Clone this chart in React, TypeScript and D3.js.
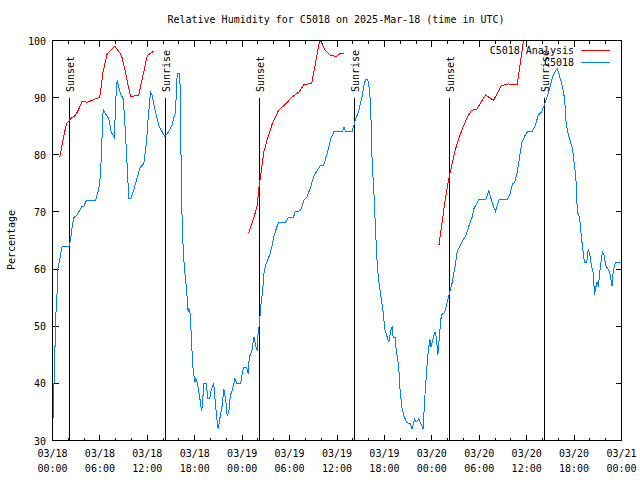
import React from "react";
import * as d3 from "d3";

const TITLE = "Relative Humidity for C5018 on 2025-Mar-18 (time in UTC)";
const Y_LABEL = "Percentage";
const X_MAJOR_HOURS = [0, 6, 12, 18, 24, 30, 36, 42, 48, 54, 60, 66, 72];
const X_TICK_DATES = ["03/18", "03/18", "03/18", "03/18", "03/19", "03/19", "03/19", "03/19", "03/20", "03/20", "03/20", "03/20", "03/21"];
const X_TICK_TIMES = ["00:00", "06:00", "12:00", "18:00", "00:00", "06:00", "12:00", "18:00", "00:00", "06:00", "12:00", "18:00", "00:00"];
const Y_TICKS = [30, 40, 50, 60, 70, 80, 90, 100];
const SUNSET_HOURS = [2.2, 26.23, 50.27];
const SUNRISE_HOURS = [14.3, 38.27, 62.29];

// Analysis series (hours since 03/18 00:00 UTC, %RH), three separate runs
const analysis1: [number, number][] = [
  [0.93, 79.6], [1.35, 82.8], [1.77, 85.4], [2.28, 86.3], [2.9, 86.9], [3.33, 88], [3.75, 89.4],
  [4.38, 89.2], [5.0, 89.5], [5.65, 89.9], [5.98, 90.1], [6.4, 94.5], [6.92, 97.7], [7.9, 99],
  [8.73, 97.4], [9.1, 95.3], [9.87, 90.2], [10.9, 90.4], [12.0, 97.4], [12.8, 98.1],
];
const analysis2: [number, number][] = [
  [24.84, 66.35], [25.5, 69.1], [25.9, 71.1], [26.1, 74], [26.4, 77], [26.74, 80.5], [27.2, 82.8],
  [27.8, 85.4], [28.6, 87.75], [29.5, 88.9], [30.3, 90.1], [31.2, 91], [31.8, 92.25], [32.8, 92.5],
  [33.3, 96.2], [33.8, 100], [34.0, 99.8], [34.5, 98.25], [35.2, 97.4], [35.9, 97.2], [36.4, 97.7], [36.9, 97.8],
];
const analysis3: [number, number][] = [
  [48.9, 64.2], [49.3, 68.2], [49.7, 72.3], [50.15, 75.8], [50.6, 78.7], [51.0, 81], [51.4, 82.8],
  [51.85, 84.5], [52.5, 86.6], [53.0, 87.75], [53.7, 88], [54.8, 90.5], [55.8, 89.5], [56.8, 92.1],
  [57.7, 92.4], [58.8, 92.25], [59.2, 96.2], [59.6, 100], [60.2, 104],
];

// Observed series
const observed: [number, number][] = [
  [0.08, 34], [0.15, 38], [0.3, 45], [0.38, 51], [0.59, 56], [0.68, 60], [0.89, 61.5], [1.22, 64], [2.07, 64],
  [2.28, 65], [2.49, 67.5], [2.7, 69], [3.12, 69.5], [3.33, 70], [3.75, 71], [3.96, 71], [4.3, 72], [5.44, 72],
  [5.65, 73], [5.86, 74], [6.07, 76.5], [6.2, 80.5], [6.41, 88], [6.7, 87.2], [7.13, 86.3], [7.42, 84], [7.85, 83],
  [7.97, 89], [8.18, 93], [8.6, 90.7], [8.94, 89.8], [9.1, 87], [9.36, 80.5], [9.66, 72.3], [9.9, 72.3], [10.3, 74],
  [10.8, 76.4], [11.1, 77.8], [11.55, 78.4], [11.9, 82.2], [12.1, 86.3], [12.4, 91], [12.6, 90.4], [12.95, 88],
  [13.46, 85.1], [13.88, 84], [14.2, 83.2], [14.7, 84], [15.1, 85.1], [15.56, 87.5], [15.78, 94.2], [16.1, 94.2],
  [16.2, 89.2], [16.28, 77], [16.4, 68.8], [16.53, 63.8], [16.7, 60], [16.96, 56.5], [17.17, 52.5], [17.25, 53.2],
  [17.46, 51.9], [17.55, 48.4], [17.75, 43.1], [18.0, 40.2], [18.15, 40.8], [18.3, 40.2], [18.6, 37.9], [18.85, 35.2],
  [18.95, 36], [19.15, 39.9], [19.45, 39.9], [19.66, 37.3], [19.9, 37.3], [20.1, 39], [20.4, 39.9], [20.6, 36.7],
  [20.84, 33.2], [20.97, 32], [21.17, 33.8], [21.47, 36.1], [21.68, 39], [21.9, 37.3], [22.1, 34.4], [22.3, 34.8],
  [22.5, 37.9], [22.8, 39], [23.07, 40.8], [23.37, 39.9], [23.8, 39.9], [24.0, 41.7], [24.2, 42.8], [24.55, 42.8],
  [24.76, 41.7], [24.9, 44.6], [25.2, 45.5], [25.5, 48.1], [25.7, 46.6], [25.9, 45.75], [26.0, 48.4], [26.2, 50.7],
  [26.4, 54.2], [26.6, 56], [26.7, 58.9], [26.95, 60.6], [27.3, 61.8], [27.6, 63], [27.8, 64.1], [28.0, 65.6],
  [28.3, 67], [28.6, 68.2], [29.5, 68.2], [29.9, 69.1], [30.5, 69.1], [30.7, 70], [31.4, 70.25], [31.8, 72],
  [32.2, 72.6], [32.65, 74.3], [33.1, 76.4], [33.5, 77.25], [33.9, 78.1], [34.3, 78.1], [34.8, 80.5], [35.2, 82.8],
  [35.6, 84], [36.65, 84], [36.9, 84.8], [37.1, 84], [37.9, 84], [38.3, 86], [38.76, 87.75], [39.2, 90.4],
  [39.4, 92.1], [39.6, 93.1], [39.9, 93.1], [40.15, 91], [40.3, 86.3], [40.45, 78.7], [40.65, 74], [40.87, 67],
  [41.1, 60.6], [41.3, 57.7], [41.6, 54.8], [41.84, 52.5], [42.05, 49.5], [42.35, 48.1], [42.55, 47.2], [42.77, 49],
  [43.0, 50.1], [43.1, 48.1], [43.35, 48.1], [43.5, 45.75], [43.8, 43.1], [44.0, 38.45], [44.25, 35.5], [44.45, 34.4],
  [44.8, 33.2], [45.3, 32.9], [45.5, 32], [45.8, 33.8], [46.0, 33.2], [46.35, 33.8], [46.6, 33], [46.9, 32],
  [47.07, 36.7], [47.3, 41.4], [47.5, 44.9], [47.74, 47.8], [47.9, 46.3], [48.1, 47.5], [48.4, 49], [48.6, 47.8],
  [48.76, 44.9], [49.0, 49], [49.2, 51.9], [49.65, 52.5], [49.95, 54.2], [50.27, 56], [50.6, 57.7], [50.8, 59.5],
  [51.0, 60.9], [51.2, 63], [51.5, 63.8], [51.8, 64.7], [52.3, 65.9], [52.7, 67.6], [53.1, 69.1], [53.3, 70.5],
  [53.9, 72.1], [54.8, 72.1], [55.2, 73.75], [55.5, 72.3], [55.76, 71.1], [56.05, 70.1], [56.5, 72.1], [57.5, 72.1],
  [57.9, 73.2], [58.2, 74.9], [58.5, 75.2], [58.8, 77], [59.0, 78.7], [59.2, 80.5], [59.4, 82.2], [59.8, 83.4],
  [60.1, 84], [60.7, 84], [61.1, 85.1], [61.45, 86.9], [61.9, 87.5], [62.2, 88.6], [62.5, 89.8], [62.8, 91],
  [63.2, 93.3], [63.65, 94.75], [63.9, 95], [64.2, 93.6], [64.5, 92.1], [64.8, 89.8], [65.0, 85.4], [65.25, 83.7],
  [65.5, 82.5], [65.8, 81], [66.1, 77.55], [66.3, 74.6], [66.4, 70], [66.7, 69.1], [66.9, 65.9], [67.1, 63.5],
  [67.3, 61.2], [67.6, 61.2], [67.8, 63.5], [68.0, 62.4], [68.2, 60.6], [68.4, 59.5], [68.6, 55.4], [68.7, 56.5],
  [68.9, 57.7], [69.1, 57.1], [69.2, 58.9], [69.4, 61.2], [69.6, 63], [69.8, 62.4], [70.0, 60.6], [70.3, 60],
  [70.5, 59.5], [70.8, 57.1], [70.9, 58.9], [71.1, 60.6], [71.3, 61.2], [72, 61.2],
];

const LEFT = 52.5, RIGHT = 621.5, TOP = 40.5, BOTTOM = 440.5;
const FONT = "'DejaVu Sans Mono', 'Liberation Mono', monospace";
const RED = "#ff0000";
const BLUE = "#0080ff";

export default function App() {
  const x = d3.scaleLinear().domain([0, 72]).range([LEFT, RIGHT]);
  const y = d3.scaleLinear().domain([30, 100]).range([BOTTOM, TOP]);
  const line = d3.line<[number, number]>().x((d) => x(d[0])).y((d) => y(d[1]));
  const minor = d3.range(0, 73, 2).filter((h) => h % 6 !== 0);
  const r = (v: number) => Math.round(v - 0.5) + 0.5;

  return (
    <svg width={640} height={480} style={{ position: "absolute", left: 0, top: 0, background: "#fff" }}
      fontFamily={FONT} fontSize={10}>
      <defs>
        <clipPath id="plot">
          <rect x={LEFT} y={TOP} width={RIGHT - LEFT} height={BOTTOM - TOP} />
        </clipPath>
      </defs>
      <rect x={0} y={0} width={640} height={480} fill="#fff" />
      <text x={336} y={23} textAnchor="middle">{TITLE}</text>
      <text transform={`translate(15,240) rotate(-90)`} textAnchor="middle">{Y_LABEL}</text>

      <g stroke="#000" strokeWidth={1} shapeRendering="crispEdges">
        {Y_TICKS.map((v) => (
          <g key={"y" + v}>
            <line x1={LEFT} x2={LEFT + 6} y1={r(y(v))} y2={r(y(v))} />
            <line x1={RIGHT} x2={RIGHT - 6} y1={r(y(v))} y2={r(y(v))} />
          </g>
        ))}
        {X_MAJOR_HOURS.map((h) => (
          <g key={"x" + h}>
            <line x1={r(x(h))} x2={r(x(h))} y1={BOTTOM} y2={BOTTOM - 6} />
            <line x1={r(x(h))} x2={r(x(h))} y1={TOP} y2={TOP + 6} />
          </g>
        ))}
        {minor.map((h) => (
          <g key={"m" + h}>
            <line x1={r(x(h))} x2={r(x(h))} y1={BOTTOM} y2={BOTTOM - 3} />
            <line x1={r(x(h))} x2={r(x(h))} y1={TOP} y2={TOP + 3} />
          </g>
        ))}
        {[...SUNSET_HOURS, ...SUNRISE_HOURS].map((h, i) => (
          <line key={"s" + i} x1={r(x(h))} x2={r(x(h))} y1={y(90)} y2={BOTTOM} />
        ))}
      </g>

      {Y_TICKS.map((v) => (
        <text key={"yl" + v} x={46} y={y(v) + 4} textAnchor="end">{v}</text>
      ))}
      {X_MAJOR_HOURS.map((h, i) => (
        <g key={"xl" + h}>
          <text x={x(h)} y={457} textAnchor="middle">{X_TICK_DATES[i]}</text>
          <text x={x(h)} y={472} textAnchor="middle">{X_TICK_TIMES[i]}</text>
        </g>
      ))}
      {SUNSET_HOURS.map((h, i) => (
        <text key={"ss" + i} transform={`translate(${r(x(h)) + 4.5},92) rotate(-90)`}>Sunset</text>
      ))}
      {SUNRISE_HOURS.map((h, i) => (
        <text key={"sr" + i} transform={`translate(${r(x(h)) + 4.5},92) rotate(-90)`}>Sunrise</text>
      ))}

      <g clipPath="url(#plot)" fill="none" strokeWidth={1} shapeRendering="crispEdges">
        {[analysis1, analysis2, analysis3].map((seg, i) => (
          <path key={"a" + i} d={line(seg) || ""} stroke={RED} />
        ))}
        <path d={line(observed) || ""} stroke={BLUE} />
      </g>

      <text x={574} y={54} textAnchor="end">C5018 Analysis</text>
      <line x1={581} x2={610} y1={50.5} y2={50.5} stroke={RED} shapeRendering="crispEdges" />
      <text x={574} y={66} textAnchor="end">C5018</text>
      <line x1={581} x2={610} y1={62.5} y2={62.5} stroke={BLUE} shapeRendering="crispEdges" />

      <rect x={LEFT} y={TOP} width={RIGHT - LEFT} height={BOTTOM - TOP} fill="none" stroke="#000"
        shapeRendering="crispEdges" />
    </svg>
  );
}
